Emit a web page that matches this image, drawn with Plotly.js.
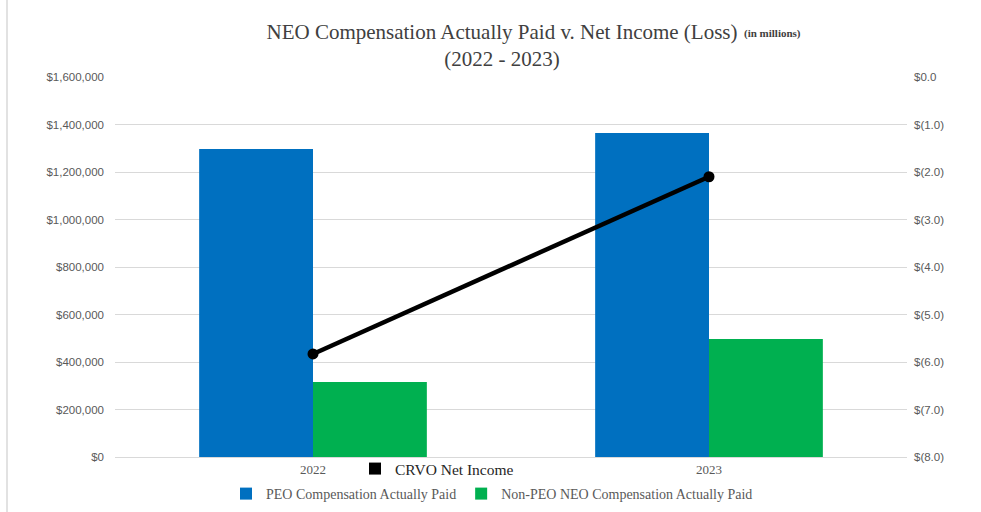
<!DOCTYPE html>
<html>
<head>
<meta charset="utf-8">
<script src="https://cdn.plot.ly/plotly-3.0.1.min.js"></script>
<style>html,body{margin:0;padding:0;background:#fff;}#chart{width:981px;height:512px;}</style>
</head>
<body>
<div id="chart"></div>
<script>
const years = ['2022', '2023'];
const peoCap = [1297000, 1364000];
const nonPeoCap = [316000, 497000];
const netIncome = [-5.83, -2.1];
const leftTickVals = [0, 200000, 400000, 600000, 800000, 1000000, 1200000, 1400000, 1600000];
const leftTickText = ['$0', '$200,000', '$400,000', '$600,000', '$800,000', '$1,000,000', '$1,200,000', '$1,400,000', '$1,600,000'];
const rightTickVals = [0, -1, -2, -3, -4, -5, -6, -7, -8];
const rightTickText = ['$0.0', '$(1.0)', '$(2.0)', '$(3.0)', '$(4.0)', '$(5.0)', '$(6.0)', '$(7.0)', '$(8.0)'];

const serif = '"Liberation Serif", "Times New Roman", serif';
const sans = '"Liberation Sans", Arial, sans-serif';

const traces = [
  {type: 'bar', name: 'PEO Compensation Actually Paid', x: years, y: peoCap,
   marker: {color: '#0070C0'}, legend: 'legend2', hoverinfo: 'skip'},
  {type: 'bar', name: 'Non-PEO NEO Compensation Actually Paid', x: years, y: nonPeoCap,
   marker: {color: '#00B050'}, legend: 'legend2', hoverinfo: 'skip'},
  {type: 'scatter', mode: 'lines+markers', name: 'CRVO Net Income', x: years, y: netIncome,
   yaxis: 'y2', line: {color: '#000000', width: 4.5}, marker: {color: '#000000', size: 11},
   showlegend: false, legendgroup: 'ni'},
  {type: 'scatter', mode: 'markers', name: 'CRVO Net Income', x: [null], y: [null],
   yaxis: 'y2', marker: {color: '#000000', symbol: 'square', size: 12},
   legend: 'legend', legendgroup: 'ni'}
];

const layout = {
  width: 981, height: 512,
  font: {family: serif, color: '#595959'},
  margin: {l: 115, r: 74, t: 77, b: 55, autoexpand: false},
  paper_bgcolor: '#ffffff', plot_bgcolor: '#ffffff',
  barmode: 'group', bargap: 0.425, bargroupgap: 0,
  title: {
    text: 'NEO Compensation Actually Paid v. Net Income (Loss)<br>(2022 - 2023)',
    font: {family: serif, size: 21, color: '#404040'},
    xref: 'container', x: 502/981, xanchor: 'center',
    yref: 'container', y: 1 - 39/512, yanchor: 'top'
  },
  xaxis: {
    type: 'category', range: [-0.5, 1.5],
    showgrid: false, showline: true, linecolor: '#d9d9d9', linewidth: 1,
    ticks: '', tickfont: {family: serif, size: 13, color: '#595959'}
  },
  yaxis: {
    range: [0, 1600000], tickvals: leftTickVals, ticktext: leftTickText,
    showgrid: true, gridcolor: '#d9d9d9', gridwidth: 1, zeroline: false,
    ticks: '', ticklabelstandoff: 10,
    tickfont: {family: sans, size: 11.5, color: '#595959'}
  },
  yaxis2: {
    overlaying: 'y', side: 'right', range: [-8, 0],
    tickvals: rightTickVals, ticktext: rightTickText,
    showgrid: false, zeroline: false, ticks: '', ticklabelstandoff: 6,
    tickfont: {family: sans, size: 11.5, color: '#595959'}
  },
  legend: {
    orientation: 'h', xref: 'container', yref: 'container',
    x: 355/981, xanchor: 'left', y: 1 - 469/512, yanchor: 'middle',
    font: {family: serif, size: 15.5, color: '#262626'}, bgcolor: 'rgba(0,0,0,0)'
  },
  legend2: {
    orientation: 'h', xref: 'container', yref: 'container',
    x: 226/981, xanchor: 'left', y: 1 - 494/512, yanchor: 'middle',
    font: {family: serif, size: 14, color: '#595959'}, bgcolor: 'rgba(0,0,0,0)'
  },
  annotations: [
    {text: '<b>(in millions)</b>', xref: 'paper', yref: 'paper',
     x: (742 - 115)/792, y: (457 - 34)/380, xanchor: 'left', yanchor: 'middle',
     showarrow: false, font: {family: serif, size: 11, color: '#404040'}}
  ],
  shapes: [
    {type: 'line', xref: 'paper', yref: 'paper', x0: (7 - 115)/792, x1: (7 - 115)/792,
     y0: (457 - 512)/380, y1: 457/380, line: {color: '#d9d9d9', width: 1.5}}
  ],
  showlegend: true
};

Plotly.newPlot('chart', traces, layout, {displayModeBar: false, staticPlot: true});
</script>
</body>
</html>
